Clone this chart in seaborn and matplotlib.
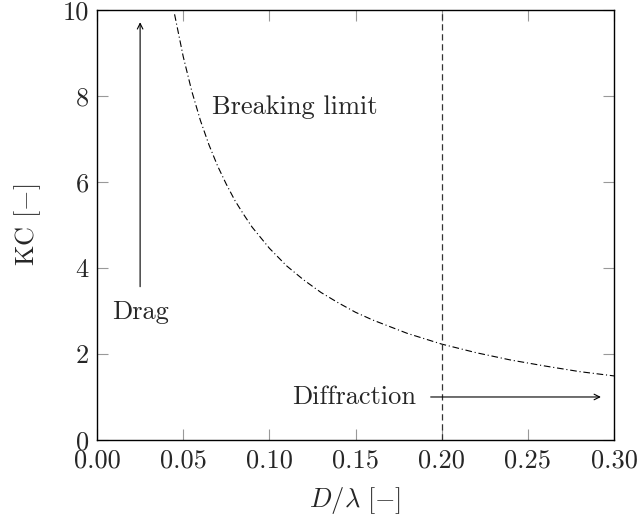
import matplotlib
matplotlib.use("Agg")
import matplotlib.pyplot as plt
import seaborn as sns
import pandas as pd

# Breaking-limit curve
d_lambda = [0.045, 0.05, 0.055, 0.06, 0.065, 0.07, 0.075, 0.08, 0.085, 0.09, 0.10,
            0.11, 0.12, 0.13, 0.14, 0.15, 0.16, 0.18, 0.20, 0.22, 0.24, 0.26, 0.28, 0.30]
kc = [9.90, 8.92, 8.11, 7.43, 6.86, 6.37, 5.95, 5.57, 5.25, 4.95, 4.46,
      4.05, 3.72, 3.43, 3.19, 2.97, 2.79, 2.48, 2.23, 2.03, 1.86, 1.72, 1.59, 1.49]

diffraction_x = 0.2
xticks = [0.00, 0.05, 0.10, 0.15, 0.20, 0.25, 0.30]
yticks = [0, 2, 4, 6, 8, 10]

sns.set_style("ticks")
plt.rcParams["font.family"] = ["cmr10", "DejaVu Serif"]
plt.rcParams["mathtext.fontset"] = "cm"
plt.rcParams["axes.unicode_minus"] = False
plt.rcParams["axes.formatter.use_mathtext"] = True

FS = 19

fig = plt.figure(figsize=(6.4, 5.21), dpi=100)
ax = fig.add_axes([0.1516, 0.1555, 0.8078, 0.8253])

df = pd.DataFrame({"x": d_lambda, "y": kc})
sns.lineplot(data=df, x="x", y="y", ax=ax, color="black", linewidth=0.8,
             linestyle=(0, (6, 2.5, 1, 2.5)))
ax.axvline(diffraction_x, color="#333333", linewidth=0.9, linestyle=(0, (5, 3)))

ax.set_xlim(0, 0.3)
ax.set_ylim(0, 10)
ax.set_xticks(xticks)
ax.set_xticklabels([f"{v:.2f}" for v in xticks])
ax.set_yticks(yticks)
ax.set_yticklabels([str(v) for v in yticks])

ax.tick_params(direction="in", length=8, width=0.8, color="#999999",
               top=True, right=True, labelsize=FS)
ax.tick_params(axis="x", pad=6)
ax.tick_params(axis="y", pad=6)
for s in ax.spines.values():
    s.set_color("black")
    s.set_linewidth(1.0)
    s.set_visible(True)

ax.set_xlabel(r"$D/\lambda\ [-]$", fontsize=FS, labelpad=9)
ax.set_ylabel(r"KC $[-]$", fontsize=FS, labelpad=14)

# Drag arrow
ax.annotate("", xy=(0.025, 9.78), xytext=(0.025, 3.5),
            arrowprops=dict(arrowstyle="->", color="black", lw=0.8))
ax.text(0.025, 2.98, "Drag", ha="center", va="center", fontsize=FS)

# Diffraction arrow
ax.annotate("", xy=(0.294, 1.0), xytext=(0.192, 1.0),
            arrowprops=dict(arrowstyle="->", color="black", lw=0.8))
ax.text(0.185, 1.0, "Diffraction", ha="right", va="center", fontsize=FS)

ax.text(0.115, 7.75, "Breaking limit", ha="center", va="center", fontsize=FS)

fig.savefig("out.png", dpi=100)
